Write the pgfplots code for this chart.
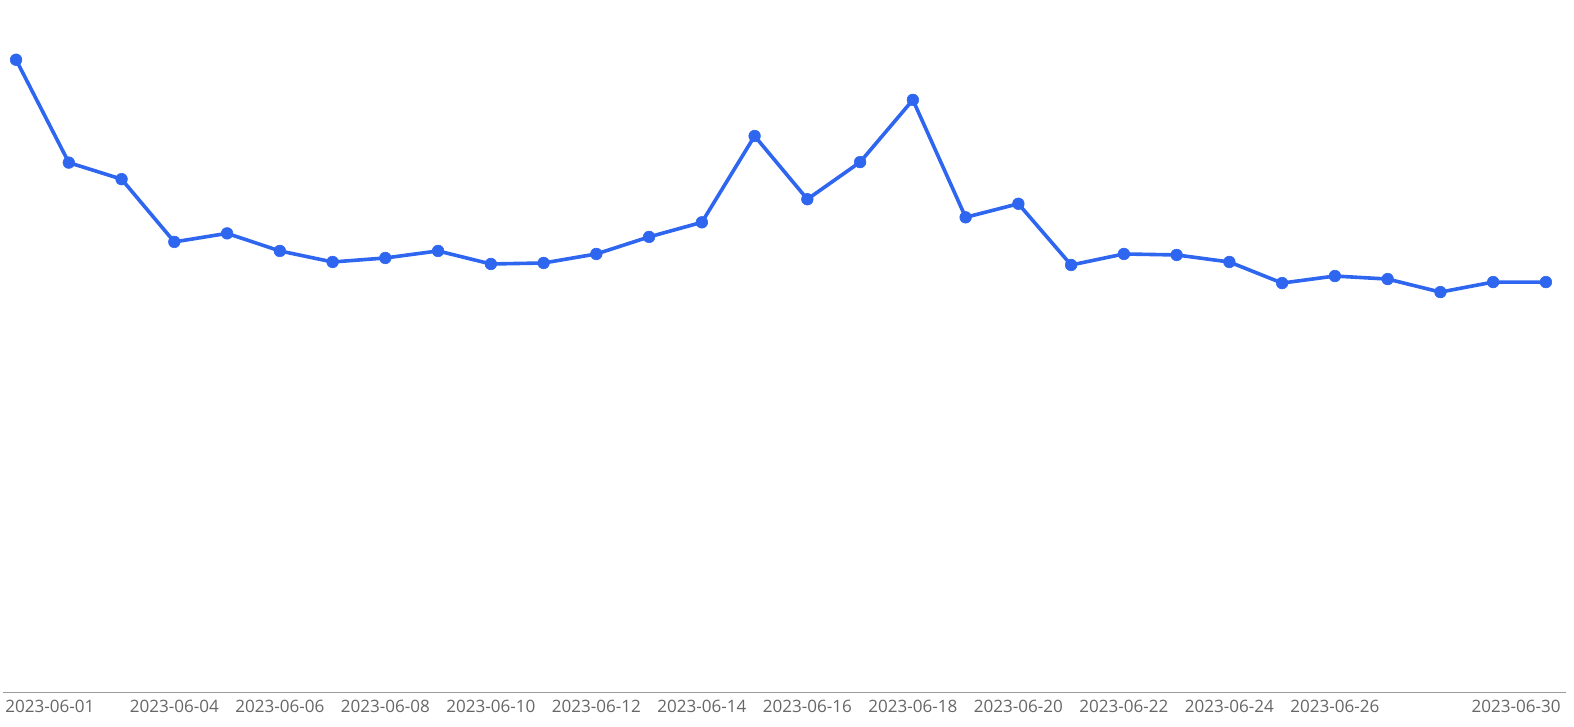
\documentclass[border=0pt]{standalone}
\usepackage{pgfplots}
\pgfplotsset{compat=1.18}
\usepackage{fontspec}
\setmainfont{Open Sans}
\definecolor{lineblue}{HTML}{2F66F0}
\definecolor{axisgray}{HTML}{9A9A9A}
\definecolor{labelgray}{HTML}{666666}
\begin{document}
\begin{tikzpicture}
\begin{axis}[
  scale only axis,
  width=778.5bp, height=345bp,
  xmin=-0.2474, xmax=29.3806,
  ymin=0, ymax=690,
  axis x line*=bottom,
  axis y line=none,
  x axis line style={draw=axisgray, line width=0.5bp, -},
  xtick={3,5,7,9,11,13,15,17,19,21,23,25},
  xticklabels={2023-06-04,2023-06-06,2023-06-08,2023-06-10,2023-06-12,2023-06-14,2023-06-16,2023-06-18,2023-06-20,2023-06-22,2023-06-24,2023-06-26},
  major tick length=0pt,
  xticklabel style={font=\fontsize{8.5bp}{10bp}\selectfont, text=labelgray, inner sep=0pt, yshift=-3.5bp, anchor=north},
  ytick=\empty,
  clip=false,
]
\addplot[lineblue, line width=1.8bp, line join=round, mark=*, mark size=2.9bp, mark options={fill=lineblue, draw=lineblue, line width=0.3bp}] coordinates {
(0,630.5) (1,528) (2,511.5) (3,449) (4,457.5) (5,440) (6,429) (7,433) (8,440) (9,427)
(10,428) (11,437) (12,454) (13,468.5) (14,554.5) (15,491.5) (16,528.5) (17,590.5) (18,473.5) (19,487)
(20,426) (21,437) (22,436) (23,429) (24,408) (25,415) (26,412) (27,399) (28,409) (29,409)
};
\node[anchor=north west, inner sep=0pt, font=\fontsize{8.5bp}{10bp}\selectfont, text=labelgray] at ([xshift=1bp,yshift=-3.5bp]axis description cs:0,0) {2023-06-01};
\node[anchor=north east, inner sep=0pt, font=\fontsize{8.5bp}{10bp}\selectfont, text=labelgray] at ([xshift=-2.5bp,yshift=-3.5bp]axis description cs:1,0) {2023-06-30};
\end{axis}
\pgfresetboundingbox
\path ([xshift=-1.5bp,yshift=-17bp]current axis.south west) rectangle ([xshift=4bp]current axis.north east);
\end{tikzpicture}
\end{document}
